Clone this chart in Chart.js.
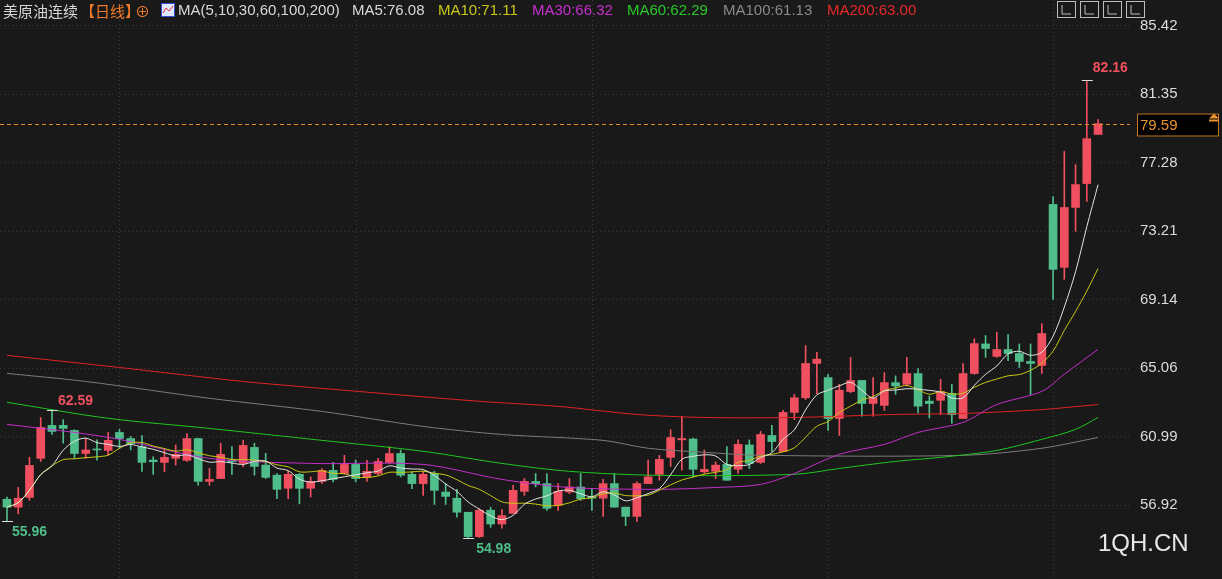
<!DOCTYPE html>
<html>
<head>
<meta charset="utf-8">
<script src="https://cdn.jsdelivr.net/npm/chart.js@4"></script>
<style>
  body { margin: 0; background: #191919; }
  #wrap { width: 1222px; height: 579px; position: relative; }
</style>
</head>
<body>
<div id="wrap"><canvas id="kChart"></canvas></div>
<script>
// daily OHLC
const opens  = [57.27,56.8,57.38,59.7,61.66,61.66,61.36,59.99,60.25,60.17,61.24,60.88,60.4,59.6,59.46,59.7,59.58,60.88,58.33,58.5,59.6,59.4,60.35,59.3,58.7,57.92,58.75,57.92,58.33,58.99,58.8,59.34,58.57,58.8,59.46,59.99,58.75,58.2,58.8,57.7,57.33,56.5,55.05,56.62,55.8,56.43,57.74,58.33,58.2,56.9,57.7,58.0,57.4,57.33,58.2,56.8,56.25,58.2,58.75,59.76,60.8,60.85,58.9,58.93,59.34,59.05,60.5,59.46,61.06,60.1,62.43,63.3,65.34,64.5,62.07,63.67,64.33,62.96,62.85,64.2,64.1,64.74,63.1,63.15,63.56,62.07,64.74,66.5,65.76,66.17,65.93,65.46,65.22,74.79,71.05,74.61,76.03,78.95];
const closes = [56.8,57.33,59.28,61.54,61.3,61.48,59.99,60.2,60.2,60.77,60.88,60.58,59.46,59.5,59.76,59.94,60.88,58.33,58.45,59.94,59.5,60.47,59.22,58.57,57.86,58.75,57.92,58.33,58.99,58.45,59.34,58.5,58.93,59.52,59.99,58.7,58.2,58.75,57.8,57.44,56.5,55.05,56.62,55.8,56.3,57.8,58.33,58.2,56.73,57.74,58.0,57.3,57.33,58.2,56.8,56.25,58.2,58.6,59.64,60.94,60.88,59.05,59.05,59.3,58.4,60.53,59.4,61.12,60.7,62.43,63.3,65.34,65.6,62.07,63.75,64.33,62.96,63.3,64.2,64.0,64.74,62.8,62.96,63.67,62.3,64.74,66.52,66.23,66.17,65.93,65.46,65.34,67.12,70.93,74.61,75.97,78.7,79.59];
const highs  = [57.4,57.98,59.76,62.13,62.59,62.0,61.4,60.9,60.8,61.24,61.42,61.0,61.06,59.8,60.3,60.5,61.18,60.9,59.1,60.6,60.4,60.77,60.6,60.0,58.8,58.93,58.8,58.6,59.1,59.46,59.88,59.6,59.58,59.7,60.4,60.2,58.9,58.93,58.93,58.2,57.86,56.5,56.7,56.8,56.66,58.1,58.5,58.8,58.8,58.2,58.5,58.8,57.86,58.45,58.8,56.8,58.3,59.6,59.88,61.4,62.2,60.9,60.2,59.5,60.4,60.8,60.8,61.3,61.66,62.55,63.5,66.4,66.0,64.7,64.1,65.7,64.33,64.5,64.8,64.6,65.7,65.04,63.4,64.4,64.1,65.34,66.8,67.0,67.2,67.06,66.5,66.5,67.7,75.26,77.94,77.16,82.16,79.84];
const lows   = [55.96,56.4,57.2,59.52,61.12,60.6,59.7,59.7,59.6,59.88,60.3,60.2,58.93,58.75,58.9,59.3,59.52,58.1,58.1,58.5,58.75,59.2,58.7,58.5,57.3,57.3,57.0,57.4,58.2,58.3,58.75,58.3,58.33,58.7,59.4,58.6,57.9,57.5,56.96,56.96,56.2,54.98,55.0,55.6,55.55,56.43,57.5,58.0,56.6,56.6,57.6,57.2,56.6,56.25,56.8,55.7,55.96,58.2,58.4,59.22,59.0,58.6,58.8,58.5,58.4,58.8,59.1,59.4,60.1,60.1,62.0,63.2,63.55,61.36,61.06,63.6,62.2,62.2,62.55,63.5,64.0,62.4,62.1,62.3,61.78,62.07,64.7,65.7,65.7,65.5,65.1,63.5,64.74,69.14,70.34,73.2,74.97,78.95];

// slow moving averages: [candle index, value]
const ma30Pts  = [[0,61.72],[6,61.24],[10,60.83],[18,59.7],[27,59.4],[37,59.34],[44,58.45],[50,57.97],[58,57.86],[63,57.97],[67,58.15],[70,58.8],[74,59.94],[78,60.53],[81,61.24],[85,61.84],[88,62.9],[92,63.68],[94,64.7],[97,66.18]];
const ma60Pts  = [[0,63.03],[9,62.08],[18,61.48],[28,60.77],[37,60.12],[44,59.4],[50,58.93],[58,58.69],[70,58.75],[74,59.1],[79,59.52],[83,59.76],[88,60.17],[92,60.83],[95,61.42],[97,62.13]];
const ma100Pts = [[0,64.75],[7,64.27],[18,63.27],[28,62.49],[37,61.6],[44,61.12],[53,60.77],[57,60.3],[62,60.06],[67,59.88],[85,59.88],[92,60.3],[97,60.94]];
const ma200Pts = [[0,65.82],[10,65.1],[21,64.27],[28,63.86],[42,63.09],[49,62.79],[56,62.31],[62,62.13],[70,62.13],[79,62.31],[85,62.37],[92,62.6],[97,62.9]];

const yTicks = [85.42, 81.35, 77.28, 73.21, 69.14, 65.06, 60.99, 56.92];
const vGridIdx = [10, 31, 52, 73, 93];
const lastPrice = 79.59;

const UP = '#ef4f5e', DOWN = '#4fbe8b';

function movingAvg(src, n) {
  return src.map((v, i) => {
    const part = src.slice(Math.max(0, i - n + 1), i + 1);
    return { x: i, y: part.reduce((a, b) => a + b, 0) / part.length };
  });
}
const toXY = pts => pts.map(p => ({ x: p[0], y: p[1] }));

const candleColors = closes.map((c, i) => c >= opens[i] ? UP : DOWN);
const wickData = highs.map((h, i) => ({ x: i, y: [lows[i], h] }));
const bodyData = opens.map((o, i) => ({ x: i, y: [o, closes[i]] }));

function line(label, data, color) {
  return { type: 'line', label, data, borderColor: color, borderWidth: 1, pointRadius: 0, tension: 0.3, order: 1 };
}

const overlay = {
  id: 'overlay',
  beforeDatasetsDraw(chart) {
    const { ctx, scales: { x } } = chart;
    ctx.save();
    ctx.strokeStyle = '#3c3c3c';
    ctx.setLineDash([1, 3]);
    vGridIdx.forEach(i => {
      const px = Math.round(x.getPixelForValue(i)) + 0.5;
      ctx.beginPath(); ctx.moveTo(px, 0); ctx.lineTo(px, 579); ctx.stroke();
    });
    ctx.restore();
  },
  afterDraw(chart) {
    const { ctx, chartArea: a, scales: { x, y } } = chart;
    ctx.save();
    // last price dashed line
    const ly = Math.round(y.getPixelForValue(lastPrice)) + 0.5;
    ctx.strokeStyle = '#e08a2c';
    ctx.setLineDash([4, 3]);
    ctx.beginPath(); ctx.moveTo(0, ly); ctx.lineTo(a.right, ly); ctx.stroke();
    ctx.setLineDash([]);
    ctx.fillStyle = '#000';
    ctx.fillRect(1137, ly - 11, 82, 23);
    ctx.strokeStyle = '#c47a28';
    ctx.strokeRect(1137.5, ly - 10.5, 81, 22);
    ctx.fillStyle = '#e8932f';
    ctx.font = '15px "Liberation Sans", Arial, sans-serif';
    ctx.textBaseline = 'middle';
    ctx.fillText(lastPrice.toFixed(2), 1140, ly + 1);
    ctx.beginPath(); ctx.moveTo(1209, ly - 6); ctx.lineTo(1214, ly - 11); ctx.lineTo(1219, ly - 6); ctx.closePath(); ctx.fill();
    ctx.fillRect(1209, ly - 5, 10, 2);

    // extreme markers
    ctx.font = 'bold 14px "Liberation Sans", Arial, sans-serif';
    const mark = (i, v, txt, color, dx, dy) => {
      const px = x.getPixelForValue(i), py = y.getPixelForValue(v);
      ctx.strokeStyle = '#e0e0e0';
      ctx.lineWidth = 1;
      ctx.beginPath(); ctx.moveTo(px - 5, Math.round(py) + 0.5); ctx.lineTo(px + 6, Math.round(py) + 0.5); ctx.stroke();
      ctx.fillStyle = color;
      ctx.fillText(txt, px + dx, py + dy);
    };
    mark(96, highs[96], '82.16', '#f0505f', 6, -12);
    mark(4, highs[4], '62.59', '#f0505f', 6, -9);
    mark(0, lows[0], '55.96', '#4fbe8b', 5, 11);
    mark(41, lows[41], '54.98', '#4fbe8b', 8, 11);

    // header legend
    const hy = 11;
    const parts = [
      ['美原油连续', '#d8d8d8', 3], ['【日线】', '#ee7a2a', 80], ['⊕', '#ee7a2a', 135],
      ['MA(5,10,30,60,100,200)', '#d8d8d8', 178], ['MA5:76.08', '#d8d8d8', 352],
      ['MA10:71.11', '#c8c81a', 438], ['MA30:66.32', '#c62fd0', 532],
      ['MA60:62.29', '#28c828', 627], ['MA100:61.13', '#8a8a8a', 723], ['MA200:63.00', '#e52a2a', 827]
    ];
    parts.forEach(([t, c, px]) => {
      ctx.fillStyle = c;
      ctx.font = (px < 170 ? '15px "Noto Sans CJK SC"' : '15px "Liberation Sans", Arial') + ', sans-serif';
      ctx.fillText(t, px, hy);
    });
    // small chart icon
    ctx.fillStyle = '#dfe6ff'; ctx.fillRect(161, 3, 14, 14);
    ctx.strokeStyle = '#3050d0'; ctx.strokeRect(161.5, 3.5, 13, 13);
    ctx.strokeStyle = '#e03030';
    ctx.beginPath(); ctx.moveTo(163, 13); ctx.lineTo(166, 8); ctx.lineTo(169, 11); ctx.lineTo(173, 6); ctx.stroke();
    // toolbar icons
    ctx.strokeStyle = '#bdbdbd';
    [1057, 1080, 1103, 1126].forEach(bx => {
      ctx.strokeRect(bx + 0.5, 1.5, 18, 16);
      ctx.beginPath(); ctx.moveTo(bx + 5, 5); ctx.lineTo(bx + 5, 14); ctx.lineTo(bx + 14, 14); ctx.stroke();
    });

    // watermark
    ctx.fillStyle = '#e8e8e8';
    ctx.font = '24px "Liberation Sans", Arial, sans-serif';
    ctx.fillText('1QH.CN', 1098, 544);
    ctx.restore();
  }
};

new Chart(document.getElementById('kChart'), {
  type: 'bar',
  data: {
    datasets: [
      { label: 'wick', data: wickData, backgroundColor: candleColors, barThickness: 1, order: 10 },
      { label: 'body', data: bodyData, backgroundColor: candleColors, barThickness: 8, minBarLength: 1, order: 9 },
      line('MA5', movingAvg(closes, 5), '#e4e4e4'),
      line('MA10', movingAvg(closes, 10), '#c8c814'),
      line('MA30', toXY(ma30Pts), '#c42fcc'),
      line('MA60', toXY(ma60Pts), '#1ec81e'),
      line('MA100', toXY(ma100Pts), '#7c7c7c'),
      line('MA200', toXY(ma200Pts), '#e02424')
    ]
  },
  options: {
    responsive: true,
    maintainAspectRatio: false,
    animation: false,
    grouped: false,
    layout: { padding: 0 },
    plugins: { legend: { display: false }, tooltip: { enabled: false } },
    scales: {
      x: { type: 'linear', min: -0.62, max: 99.84, display: false, offset: false },
      y: {
        position: 'right',
        min: 53.66, max: 85.81,
        afterBuildTicks: s => { s.ticks = yTicks.map(v => ({ value: v })); },
        afterFit: s => { s.width = 92; },
        ticks: {
          color: '#dcdcdc', padding: 10,
          font: { size: 15, family: '"Liberation Sans", Arial, sans-serif' },
          callback: v => v.toFixed(2)
        },
        grid: { color: '#3a3a3a', drawTicks: false },
        border: { display: false, dash: [1, 3] }
      }
    }
  },
  plugins: [overlay]
});
</script>
</body>
</html>
